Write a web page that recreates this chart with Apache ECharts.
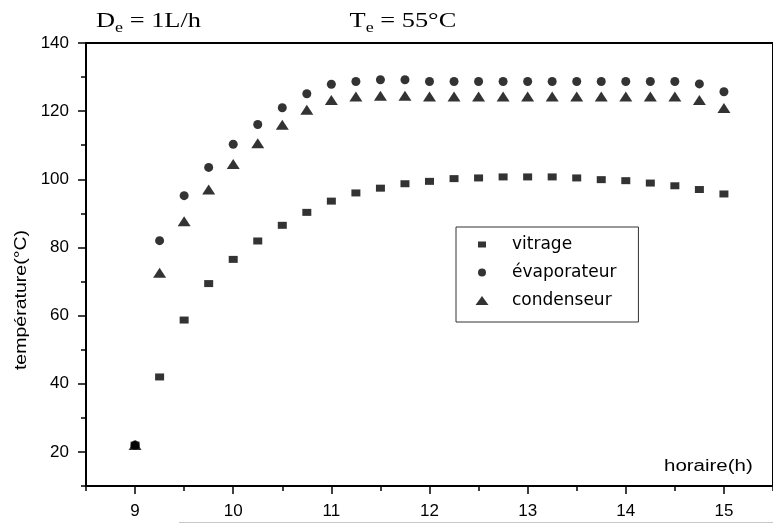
<!DOCTYPE html>
<html>
<head>
<meta charset="utf-8">
<title>température</title>
<script src="https://cdn.jsdelivr.net/npm/echarts@6.0.0/dist/echarts.min.js"></script>
<style>
  html, body { margin: 0; padding: 0; background: #fff; }
  #chart { width: 773px; height: 525px; }
</style>
</head>
<body>
<div id="chart"></div>
<script>
// Heure de la journée (h), relevés toutes les 15 minutes
const hours = [9, 9.25, 9.5, 9.75, 10, 10.25, 10.5, 10.75, 11, 11.25, 11.5, 11.75, 12,
               12.25, 12.5, 12.75, 13, 13.25, 13.5, 13.75, 14, 14.25, 14.5, 14.75, 15];

// Températures (°C)
const vitrage = [22, 42, 58.7, 69.4, 76.5, 81.9, 86.5, 90.3, 93.6, 96.0, 97.4, 98.7, 99.4,
                 100.2, 100.4, 100.7, 100.7, 100.7, 100.4, 99.9, 99.6, 98.9, 98.1, 97.0, 95.7];
const evaporateur = [22, 82, 95.2, 103.5, 110.3, 116.1, 121, 125.1, 127.9, 128.7, 129.2, 129.2, 128.7,
                     128.7, 128.7, 128.7, 128.7, 128.7, 128.7, 128.7, 128.7, 128.7, 128.7, 128, 125.7];
const condenseur = [22, 72.6, 87.7, 97, 104.5, 110.6, 116, 120.4, 123.3, 124.3, 124.5, 124.5, 124.3,
                    124.3, 124.3, 124.3, 124.3, 124.3, 124.3, 124.3, 124.3, 124.3, 124.3, 123.3, 120.9];

// Graduations
const xTicks = [9, 10, 11, 12, 13, 14, 15];
const yTicks = [20, 40, 60, 80, 100, 120, 140];

const seriesNames = ['vitrage', 'évaporateur', 'condenseur'];

function pairs(xs, ys) { return xs.map((x, i) => [x, ys[i]]); }

const chart = echarts.init(document.getElementById('chart'), null, { renderer: 'canvas' });

const labelFont = { fontFamily: 'Liberation Sans', fontSize: 17, color: '#000' };
const blackLine = { color: '#000', width: 2 };
const tickLine = { color: '#000', width: 1.5 };

const titleRich = {
  m: { fontFamily: 'Liberation Serif', fontSize: 22, lineHeight: 30, fill: '#000' },
  s: { fontFamily: 'Liberation Serif', fontSize: 15, padding: [15, 0, 0, 0], fill: '#000' }
};

chart.setOption({
  animation: false,
  backgroundColor: '#fff',
  grid: { left: 86, top: 43, right: -2, bottom: 39, show: true, borderColor: '#000', borderWidth: 2 },
  xAxis: [
    {
      type: 'value', min: 8.5, max: 15.5, position: 'bottom',
      axisLine: { lineStyle: blackLine },
      axisTick: { customValues: xTicks, length: 8, lineStyle: tickLine },
      axisLabel: Object.assign({ customValues: xTicks, margin: 17 }, labelFont),
      splitLine: { show: false }
    },
    {
      type: 'value', min: 8.5, max: 15.5, interval: 0.5, position: 'bottom',
      axisLine: { show: false },
      axisTick: { length: 5, lineStyle: tickLine },
      axisLabel: { show: false },
      splitLine: { show: false }
    }
  ],
  yAxis: [
    {
      type: 'value', min: 10, max: 140, position: 'left',
      axisLine: { lineStyle: blackLine },
      axisTick: { customValues: yTicks, length: 8, lineStyle: tickLine },
      axisLabel: Object.assign({ customValues: yTicks, margin: 17 }, labelFont),
      splitLine: { show: false }
    },
    {
      type: 'value', min: 10, max: 140, interval: 10, position: 'left',
      axisLine: { show: false },
      axisTick: { length: 5, lineStyle: tickLine },
      axisLabel: { show: false },
      splitLine: { show: false }
    }
  ],
  legend: {
    orient: 'vertical',
    left: 456, top: 227,
    padding: [9, 22, 13, 10],
    itemWidth: 41, itemHeight: 9, itemGap: 11,
    borderColor: '#333', borderWidth: 1,
    backgroundColor: '#fff',
    textStyle: { fontFamily: 'DejaVu Sans', fontSize: 17, color: '#000' },
    data: [
      { name: seriesNames[0], icon: 'path://M0 0M41 9M12 1.5H20V7.5H12Z' },
      { name: seriesNames[1], icon: 'path://M0 0M41 9M12 4.5A4 4 0 1 1 20 4.5A4 4 0 1 1 12 4.5Z' },
      { name: seriesNames[2], icon: 'path://M0 0M41 9M16 0L22.5 9L9.5 9Z' }
    ]
  },
  series: [
    {
      name: seriesNames[0], type: 'scatter', xAxisIndex: 0, yAxisIndex: 0,
      symbol: 'rect', symbolSize: [9, 7],
      itemStyle: { color: '#000' },
      data: pairs(hours, vitrage)
    },
    {
      name: seriesNames[1], type: 'scatter', xAxisIndex: 0, yAxisIndex: 0,
      symbol: 'circle', symbolSize: 9,
      itemStyle: { color: '#000' },
      data: pairs(hours, evaporateur)
    },
    {
      name: seriesNames[2], type: 'scatter', xAxisIndex: 0, yAxisIndex: 0,
      symbol: 'triangle', symbolSize: [13, 10],
      itemStyle: { color: '#000' },
      data: pairs(hours, condenseur)
    }
  ],
  graphic: [
    {
      type: 'text', x: 96, y: 21, scaleX: 1.2,
      style: { text: '{m|D}{s|e}{m| = 1L/h}', verticalAlign: 'middle', fill: '#000', rich: titleRich }
    },
    {
      type: 'text', x: 349.5, y: 21, scaleX: 1.2,
      style: { text: '{m|T}{s|e}{m| = 55°C}', verticalAlign: 'middle', fill: '#000', rich: titleRich }
    },
    {
      type: 'text', x: 22, y: 300, rotation: Math.PI / 2, scaleX: 1.22,
      style: {
        text: 'température(°C)', fontFamily: 'Liberation Sans', fontSize: 16,
        align: 'center', verticalAlign: 'middle', fill: '#000'
      }
    },
    {
      type: 'text', x: 664, y: 467, scaleX: 1.28,
      style: {
        text: 'horaire(h)', fontFamily: 'Liberation Sans', fontSize: 16,
        align: 'left', verticalAlign: 'middle', fill: '#000'
      }
    },
    {
      type: 'line',
      shape: { x1: 179, y1: 522.5, x2: 773, y2: 522.5 },
      style: { stroke: '#c8c8c8', lineWidth: 1 }
    }
  ]
});
</script>
</body>
</html>
